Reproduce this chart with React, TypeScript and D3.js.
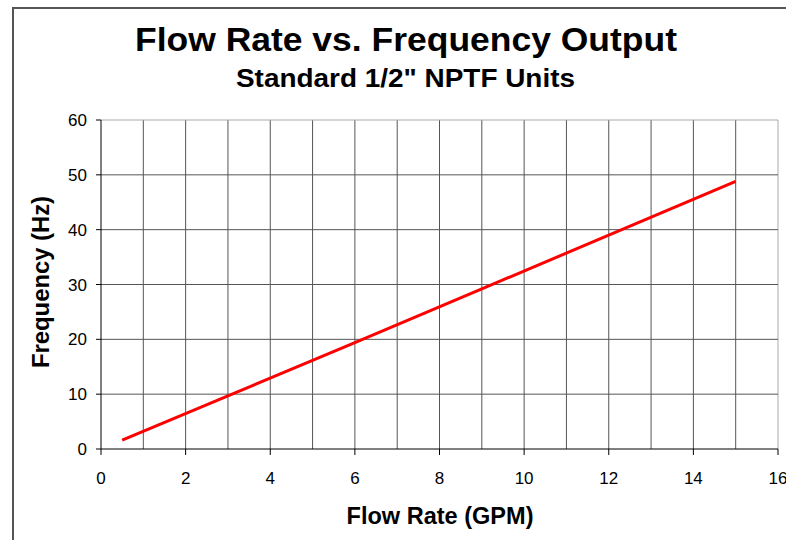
import React from "react";
import * as d3 from "d3";

const flowRate = [0.5, 3, 6, 9, 12, 15];
const frequency = [1.6, 9.7, 19.4, 29.2, 39.0, 48.8];
const xTicks = [0, 2, 4, 6, 8, 10, 12, 14, 16];
const yTicks = [0, 10, 20, 30, 40, 50, 60];
const xGrid = d3.range(1, 17);
const title = "Flow Rate vs. Frequency Output";
const subtitle = 'Standard 1/2" NPTF Units';
const xLabel = "Flow Rate (GPM)";
const yLabel = "Frequency (Hz)";

export default function App() {
  const W = 786, H = 540;
  const left = 101, right = 778, top = 120, bottom = 449;
  const x = d3.scaleLinear().domain([0, 16]).range([left, right]);
  const y = d3.scaleLinear().domain([0, 60]).range([bottom, top]);
  const pts = flowRate.map((f, i) => [f, frequency[i]] as [number, number]);
  const line = d3.line<[number, number]>().x(d => x(d[0])).y(d => y(d[1]));
  const font = "'Liberation Sans', Arial, sans-serif";
  return (
    <svg width={W} height={H} style={{ position: "absolute", left: 0, top: 0, background: "#fff" }} fontFamily={font}>
      <rect x={13} y={8} width={900} height={700} fill="#fff" stroke="#555" strokeWidth={2} />
      <text x={406} y={51} textAnchor="middle" fontSize={34} fontWeight="bold" fill="#000" textLength={542} lengthAdjust="spacingAndGlyphs">{title}</text>
      <text x={405.5} y={86.5} textAnchor="middle" fontSize={25.5} fontWeight="bold" fill="#000" textLength={339} lengthAdjust="spacingAndGlyphs">{subtitle}</text>
      {xGrid.map(v => (
        <line key={"gx" + v} x1={x(v)} x2={x(v)} y1={top} y2={bottom} stroke={v === 16 ? "#aaa" : "#555"} strokeWidth={1} />
      ))}
      {yTicks.filter(v => v > 0).map(v => (
        <line key={"gy" + v} x1={left} x2={right} y1={y(v)} y2={y(v)} stroke={v === 60 ? "#aaa" : "#555"} strokeWidth={1} />
      ))}
      <line x1={left} x2={left} y1={top} y2={bottom} stroke="#000" strokeWidth={1} />
      <line x1={left} x2={right} y1={bottom} y2={bottom} stroke="#000" strokeWidth={1} />
      {yTicks.map(v => (
        <g key={"yt" + v}>
          <line x1={left - 5} x2={left} y1={y(v)} y2={y(v)} stroke="#000" />
          <text x={left - 14} y={y(v)} dy="0.36em" textAnchor="end" fontSize={17} fill="#000">{v}</text>
        </g>
      ))}
      {xTicks.map(v => (
        <g key={"xt" + v}>
          <line x1={x(v)} x2={x(v)} y1={bottom} y2={bottom + 6} stroke="#000" />
          <text x={x(v)} y={bottom + 35} textAnchor="middle" fontSize={17} fill="#000">{v}</text>
        </g>
      ))}
      <path d={line(pts) || ""} fill="none" stroke="#ff0000" strokeWidth={3} />
      <text x={440} y={524} textAnchor="middle" fontSize={24} fontWeight="bold" fill="#000" textLength={187} lengthAdjust="spacingAndGlyphs">{xLabel}</text>
      <text transform={`translate(49,282) rotate(-90)`} textAnchor="middle" fontSize={24} fontWeight="bold" fill="#000" textLength={172} lengthAdjust="spacingAndGlyphs">{yLabel}</text>
    </svg>
  );
}
